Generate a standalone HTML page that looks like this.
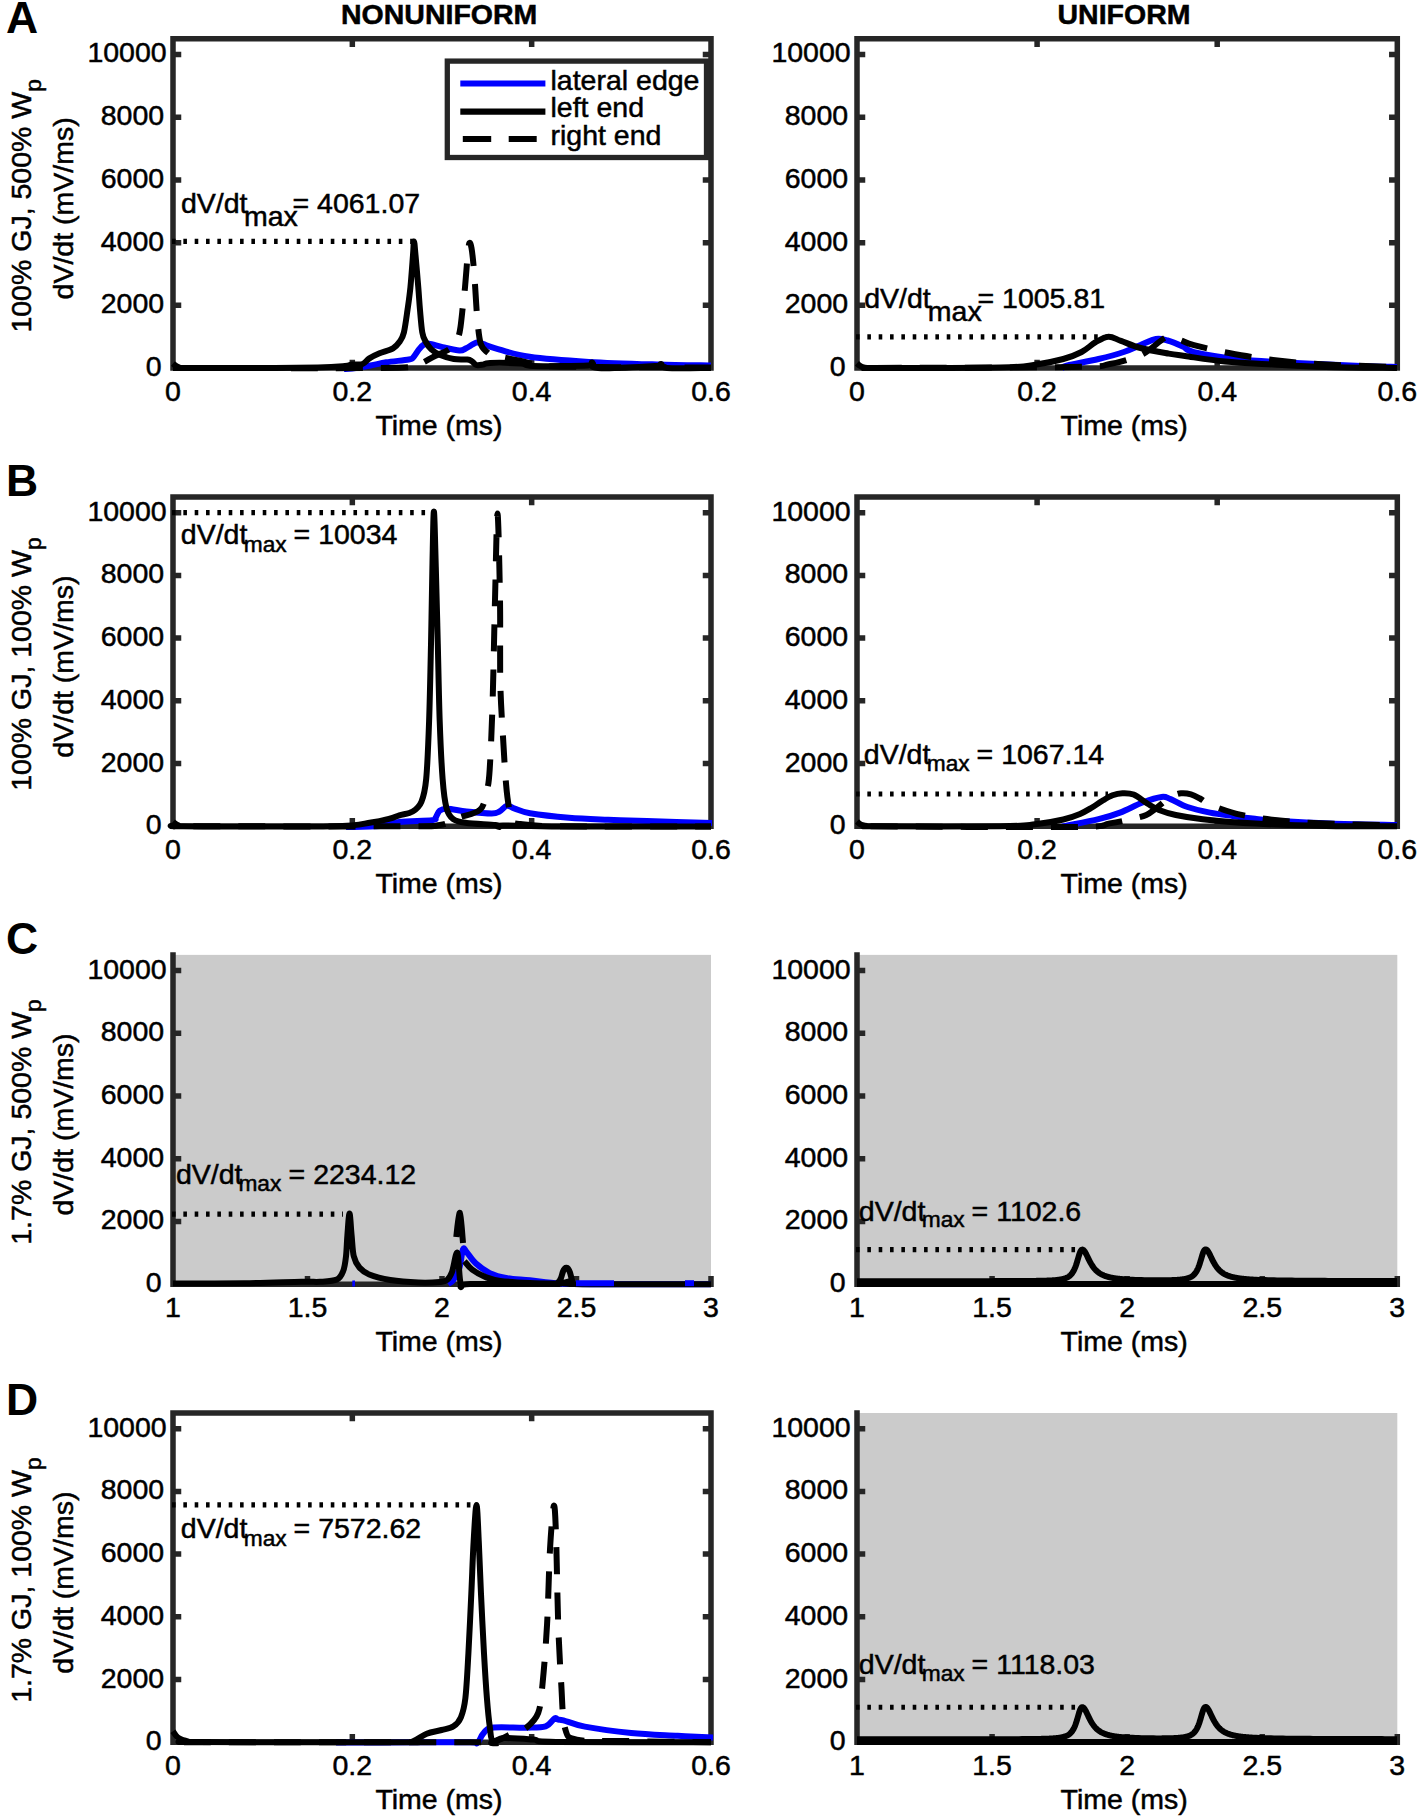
<!DOCTYPE html><html><head><meta charset="utf-8"><style>html,body{margin:0;padding:0;background:#fff;}svg{display:block}</style></head><body>
<svg width="1422" height="1817" viewBox="0 0 1422 1817" style="font-family:&quot;Liberation Sans&quot;, sans-serif">
<rect width="1422" height="1817" fill="#fff"/>
<path d="M173.0 368.1V38.7885 M173.0 368.1H711.0 M173.0 38.7885H711.0V368.1 M173.0 368.10h5.5 M711.0 368.10h-5.5 M173.0 305.37h5.5 M711.0 305.37h-5.5 M173.0 242.65h5.5 M711.0 242.65h-5.5 M173.0 179.92h5.5 M711.0 179.92h-5.5 M173.0 117.20h5.5 M711.0 117.20h-5.5 M173.0 54.47h5.5 M711.0 54.47h-5.5 M173.00 368.1v-5.5 M173.00 38.79v5.5 M352.33 368.1v-5.5 M352.33 38.79v5.5 M531.67 368.1v-5.5 M531.67 38.79v5.5 M711.00 368.1v-5.5 M711.00 38.79v5.5" fill="none" stroke="#262626" stroke-width="5.5" stroke-linecap="square"/>
<text x="161.50" y="376.10" font-size="28.5" text-anchor="end" fill="#000" stroke="#000" stroke-width="0.5">0</text>
<text x="164.10" y="313.37" font-size="28.5" text-anchor="end" fill="#000" stroke="#000" stroke-width="0.5">2000</text>
<text x="164.10" y="250.65" font-size="28.5" text-anchor="end" fill="#000" stroke="#000" stroke-width="0.5">4000</text>
<text x="164.10" y="187.92" font-size="28.5" text-anchor="end" fill="#000" stroke="#000" stroke-width="0.5">6000</text>
<text x="164.10" y="125.20" font-size="28.5" text-anchor="end" fill="#000" stroke="#000" stroke-width="0.5">8000</text>
<text x="166.70" y="62.47" font-size="28.5" text-anchor="end" fill="#000" stroke="#000" stroke-width="0.5">10000</text>
<text x="173.00" y="400.60" font-size="28.5" text-anchor="middle" fill="#000" stroke="#000" stroke-width="0.5">0</text>
<text x="352.33" y="400.60" font-size="28.5" text-anchor="middle" fill="#000" stroke="#000" stroke-width="0.5">0.2</text>
<text x="531.67" y="400.60" font-size="28.5" text-anchor="middle" fill="#000" stroke="#000" stroke-width="0.5">0.4</text>
<text x="711.00" y="400.60" font-size="28.5" text-anchor="middle" fill="#000" stroke="#000" stroke-width="0.5">0.6</text>
<text x="439.00" y="434.90" font-size="28.5" text-anchor="middle" fill="#000" stroke="#000" stroke-width="0.5">Time (ms)</text>
<path d="M344.00 369.00C345.33 368.92 347.58 369.08 352.00 368.50C356.42 367.92 364.78 366.53 370.50 365.50C376.22 364.47 379.92 363.30 386.30 362.30C392.68 361.30 404.30 360.33 408.80 359.50C413.30 358.67 411.62 358.98 413.30 357.30C414.98 355.62 417.22 351.47 418.90 349.40C420.58 347.33 421.72 345.85 423.40 344.90C425.08 343.95 425.82 343.33 429.00 343.70C432.18 344.07 437.43 345.97 442.50 347.10C447.57 348.23 455.47 350.30 459.40 350.50C463.33 350.70 463.28 349.62 466.10 348.30C468.92 346.98 473.48 343.32 476.30 342.60C479.12 341.88 479.80 343.05 483.00 344.00C486.20 344.95 487.73 346.17 495.50 348.30C503.27 350.43 514.02 354.53 529.60 356.80C545.18 359.07 567.77 360.62 589.00 361.90C610.23 363.18 636.67 363.90 657.00 364.50C677.33 365.10 702.00 365.33 711.00 365.50" fill="none" stroke="#0000ff" stroke-width="6.0" stroke-linejoin="round"/>
<path d="M173.00 363.50C173.42 363.85 174.58 365.02 175.50 365.60C176.42 366.18 177.25 366.62 178.50 367.00C179.75 367.38 171.08 367.73 183.00 367.90C194.92 368.07 227.50 368.07 250.00 368.00C272.50 367.93 302.17 367.83 318.00 367.50C333.83 367.17 339.33 366.50 345.00 366.00C350.67 365.50 349.07 364.83 352.00 364.50C354.93 364.17 359.70 365.02 362.60 364.00C365.50 362.98 366.58 360.18 369.40 358.40C372.22 356.62 375.57 354.98 379.50 353.30C383.43 351.62 389.62 350.27 393.00 348.30C396.38 346.33 397.98 344.13 399.80 341.50C401.62 338.87 402.62 337.75 403.90 332.50C405.18 327.25 406.42 317.50 407.50 310.00C408.58 302.50 409.48 296.67 410.40 287.50C411.32 278.33 412.40 262.67 413.00 255.00C413.60 247.33 413.58 241.50 414.00 241.50C414.42 241.50 414.78 247.33 415.50 255.00C416.22 262.67 417.55 278.33 418.30 287.50C419.05 296.67 419.33 302.50 420.00 310.00C420.67 317.50 421.37 327.25 422.30 332.50C423.23 337.75 424.10 338.68 425.60 341.50C427.10 344.32 428.85 347.15 431.30 349.40C433.75 351.65 436.55 353.40 440.30 355.00C444.05 356.60 449.30 358.25 453.80 359.00C458.30 359.75 464.30 359.13 467.30 359.50C470.30 359.87 470.30 360.28 471.80 361.20C473.30 362.12 474.43 364.43 476.30 365.00C478.17 365.57 480.72 364.93 483.00 364.60C485.28 364.27 483.67 363.17 490.00 363.00C496.33 362.83 513.83 363.10 521.00 363.60C528.17 364.10 521.83 365.68 533.00 366.00C544.17 366.32 578.17 366.08 588.00 365.50C597.83 364.92 590.33 362.08 592.00 362.50C593.67 362.92 587.50 367.42 598.00 368.00C608.50 368.58 644.50 366.67 655.00 366.00C665.50 365.33 659.00 363.67 661.00 364.00C663.00 364.33 658.67 367.33 667.00 368.00C675.33 368.67 703.67 368.00 711.00 368.00" fill="none" stroke="#000" stroke-width="6.0" stroke-linejoin="round"/>
<path d="M173.00 368.00C207.50 368.00 339.83 368.33 380.00 368.00C420.17 367.67 406.95 366.85 414.00 366.00C421.05 365.15 418.80 364.57 422.30 362.90C425.80 361.23 430.88 358.07 435.00 356.00C439.12 353.93 443.83 352.33 447.00 350.50C450.17 348.67 452.12 347.25 454.00 345.00C455.88 342.75 457.22 340.00 458.30 337.00C459.38 334.00 459.72 332.33 460.50 327.00C461.28 321.67 462.25 311.58 463.00 305.00C463.75 298.42 464.20 296.05 465.00 287.50C465.80 278.95 467.05 261.12 467.80 253.70C468.55 246.28 468.88 243.95 469.50 243.00C470.12 242.05 470.83 244.33 471.50 248.00C472.17 251.67 472.88 258.42 473.50 265.00C474.12 271.58 474.55 278.33 475.20 287.50C475.85 296.67 476.48 310.63 477.40 320.00C478.32 329.37 479.10 338.37 480.70 343.70C482.30 349.03 484.67 350.03 487.00 352.00C489.33 353.97 489.03 354.00 494.70 355.50C500.37 357.00 512.62 359.25 521.00 361.00C529.38 362.75 531.83 365.00 545.00 366.00C558.17 367.00 572.33 366.75 600.00 367.00C627.67 367.25 692.50 367.42 711.00 367.50" fill="none" stroke="#000" stroke-width="6.0" stroke-linejoin="round" stroke-dasharray="27 18" stroke-dashoffset="17.20"/>
<path d="M172.00 241.30H414.00" stroke="#000" stroke-width="5.2" stroke-dasharray="3.6 7.74"/>
<text x="180.90" y="212.90" font-size="28.5" fill="#000" stroke="#000" stroke-width="0.5">dV/dt</text>
<text x="243.90" y="225.70" font-size="28.5" fill="#000" stroke="#000" stroke-width="0.5">max</text>
<text x="292.50" y="212.90" font-size="28.5" fill="#000" stroke="#000" stroke-width="0.5">= 4061.07</text>
<path d="M857.0 368.1V38.7885 M857.0 368.1H1397.3 M857.0 38.7885H1397.3V368.1 M857.0 368.10h5.5 M1397.3 368.10h-5.5 M857.0 305.37h5.5 M1397.3 305.37h-5.5 M857.0 242.65h5.5 M1397.3 242.65h-5.5 M857.0 179.92h5.5 M1397.3 179.92h-5.5 M857.0 117.20h5.5 M1397.3 117.20h-5.5 M857.0 54.47h5.5 M1397.3 54.47h-5.5 M857.00 368.1v-5.5 M857.00 38.79v5.5 M1037.10 368.1v-5.5 M1037.10 38.79v5.5 M1217.20 368.1v-5.5 M1217.20 38.79v5.5 M1397.30 368.1v-5.5 M1397.30 38.79v5.5" fill="none" stroke="#262626" stroke-width="5.5" stroke-linecap="square"/>
<text x="845.50" y="376.10" font-size="28.5" text-anchor="end" fill="#000" stroke="#000" stroke-width="0.5">0</text>
<text x="848.10" y="313.37" font-size="28.5" text-anchor="end" fill="#000" stroke="#000" stroke-width="0.5">2000</text>
<text x="848.10" y="250.65" font-size="28.5" text-anchor="end" fill="#000" stroke="#000" stroke-width="0.5">4000</text>
<text x="848.10" y="187.92" font-size="28.5" text-anchor="end" fill="#000" stroke="#000" stroke-width="0.5">6000</text>
<text x="848.10" y="125.20" font-size="28.5" text-anchor="end" fill="#000" stroke="#000" stroke-width="0.5">8000</text>
<text x="850.70" y="62.47" font-size="28.5" text-anchor="end" fill="#000" stroke="#000" stroke-width="0.5">10000</text>
<text x="857.00" y="400.60" font-size="28.5" text-anchor="middle" fill="#000" stroke="#000" stroke-width="0.5">0</text>
<text x="1037.10" y="400.60" font-size="28.5" text-anchor="middle" fill="#000" stroke="#000" stroke-width="0.5">0.2</text>
<text x="1217.20" y="400.60" font-size="28.5" text-anchor="middle" fill="#000" stroke="#000" stroke-width="0.5">0.4</text>
<text x="1397.30" y="400.60" font-size="28.5" text-anchor="middle" fill="#000" stroke="#000" stroke-width="0.5">0.6</text>
<text x="1124.15" y="434.90" font-size="28.5" text-anchor="middle" fill="#000" stroke="#000" stroke-width="0.5">Time (ms)</text>
<path d="M1062.00 368.00C1062.92 367.58 1061.42 367.00 1067.50 365.50C1073.58 364.00 1089.12 361.25 1098.50 359.00C1107.88 356.75 1116.78 354.33 1123.80 352.00C1130.82 349.67 1135.23 347.17 1140.60 345.00C1145.97 342.83 1151.50 339.75 1156.00 339.00C1160.50 338.25 1163.13 339.27 1167.60 340.50C1172.07 341.73 1178.40 344.45 1182.80 346.40C1187.20 348.35 1184.82 350.07 1194.00 352.20C1203.18 354.33 1221.80 357.45 1237.90 359.20C1254.00 360.95 1270.08 361.57 1290.60 362.70C1311.12 363.83 1343.27 365.28 1361.00 366.00C1378.73 366.72 1391.00 366.83 1397.00 367.00" fill="none" stroke="#0000ff" stroke-width="6.0" stroke-linejoin="round"/>
<path d="M857.00 363.30C857.42 363.67 858.58 364.88 859.50 365.50C860.42 366.12 861.25 366.60 862.50 367.00C863.75 367.40 864.92 367.72 867.00 367.90C869.08 368.08 852.83 368.17 875.00 368.10C897.17 368.03 973.33 368.07 1000.00 367.50C1026.67 366.93 1024.45 366.12 1035.00 364.70C1045.55 363.28 1055.53 361.12 1063.30 359.00C1071.07 356.88 1076.22 354.80 1081.60 352.00C1086.98 349.20 1091.12 344.75 1095.60 342.20C1100.08 339.65 1104.27 336.92 1108.50 336.70C1112.73 336.48 1115.65 339.02 1121.00 340.90C1126.35 342.78 1132.63 345.88 1140.60 348.00C1148.57 350.12 1161.40 352.27 1168.80 353.60C1176.20 354.93 1175.63 354.68 1185.00 356.00C1194.37 357.32 1210.33 360.08 1225.00 361.50C1239.67 362.92 1256.20 363.58 1273.00 364.50C1289.80 365.42 1305.13 366.42 1325.80 367.00C1346.47 367.58 1385.13 367.83 1397.00 368.00" fill="none" stroke="#000" stroke-width="6.0" stroke-linejoin="round"/>
<path d="M857.00 368.00C893.00 367.83 1030.88 367.67 1073.00 367.00C1115.12 366.33 1099.60 365.55 1109.70 364.00C1119.80 362.45 1127.50 359.70 1133.60 357.70C1139.70 355.70 1141.13 355.28 1146.30 352.00C1151.47 348.72 1160.32 340.53 1164.60 338.00C1168.88 335.47 1169.20 336.38 1172.00 336.80C1174.80 337.22 1177.73 339.10 1181.40 340.50C1185.07 341.90 1186.07 343.12 1194.00 345.20C1201.93 347.28 1215.83 350.53 1229.00 353.00C1242.17 355.47 1256.87 358.08 1273.00 360.00C1289.13 361.92 1305.13 363.33 1325.80 364.50C1346.47 365.67 1385.13 366.58 1397.00 367.00" fill="none" stroke="#000" stroke-width="6.0" stroke-linejoin="round" stroke-dasharray="27 18" stroke-dashoffset="27.18"/>
<path d="M856.00 336.90H1107.00" stroke="#000" stroke-width="5.2" stroke-dasharray="3.6 7.74"/>
<text x="864.20" y="307.60" font-size="28.5" fill="#000" stroke="#000" stroke-width="0.5">dV/dt</text>
<text x="927.80" y="321.00" font-size="28.5" fill="#000" stroke="#000" stroke-width="0.5">max</text>
<text x="977.50" y="307.60" font-size="28.5" fill="#000" stroke="#000" stroke-width="0.5">= 1005.81</text>
<path d="M173.0 826.3V496.98849999999993 M173.0 826.3H711.0 M173.0 496.98849999999993H711.0V826.3 M173.0 826.30h5.5 M711.0 826.30h-5.5 M173.0 763.57h5.5 M711.0 763.57h-5.5 M173.0 700.85h5.5 M711.0 700.85h-5.5 M173.0 638.12h5.5 M711.0 638.12h-5.5 M173.0 575.40h5.5 M711.0 575.40h-5.5 M173.0 512.67h5.5 M711.0 512.67h-5.5 M173.00 826.3v-5.5 M173.00 496.99v5.5 M352.33 826.3v-5.5 M352.33 496.99v5.5 M531.67 826.3v-5.5 M531.67 496.99v5.5 M711.00 826.3v-5.5 M711.00 496.99v5.5" fill="none" stroke="#262626" stroke-width="5.5" stroke-linecap="square"/>
<text x="161.50" y="834.30" font-size="28.5" text-anchor="end" fill="#000" stroke="#000" stroke-width="0.5">0</text>
<text x="164.10" y="771.57" font-size="28.5" text-anchor="end" fill="#000" stroke="#000" stroke-width="0.5">2000</text>
<text x="164.10" y="708.85" font-size="28.5" text-anchor="end" fill="#000" stroke="#000" stroke-width="0.5">4000</text>
<text x="164.10" y="646.12" font-size="28.5" text-anchor="end" fill="#000" stroke="#000" stroke-width="0.5">6000</text>
<text x="164.10" y="583.40" font-size="28.5" text-anchor="end" fill="#000" stroke="#000" stroke-width="0.5">8000</text>
<text x="166.70" y="520.67" font-size="28.5" text-anchor="end" fill="#000" stroke="#000" stroke-width="0.5">10000</text>
<text x="173.00" y="858.80" font-size="28.5" text-anchor="middle" fill="#000" stroke="#000" stroke-width="0.5">0</text>
<text x="352.33" y="858.80" font-size="28.5" text-anchor="middle" fill="#000" stroke="#000" stroke-width="0.5">0.2</text>
<text x="531.67" y="858.80" font-size="28.5" text-anchor="middle" fill="#000" stroke="#000" stroke-width="0.5">0.4</text>
<text x="711.00" y="858.80" font-size="28.5" text-anchor="middle" fill="#000" stroke="#000" stroke-width="0.5">0.6</text>
<text x="439.00" y="893.10" font-size="28.5" text-anchor="middle" fill="#000" stroke="#000" stroke-width="0.5">Time (ms)</text>
<path d="M346.00 827.00C351.67 826.83 371.12 826.83 380.00 826.00C388.88 825.17 390.63 822.97 399.30 822.00C407.97 821.03 425.92 820.98 432.00 820.20C438.08 819.42 434.52 818.90 435.80 817.30C437.08 815.70 437.77 812.03 439.70 810.60C441.63 809.17 442.92 808.55 447.40 808.70C451.88 808.85 459.22 810.70 466.60 811.50C473.98 812.30 486.23 813.50 491.70 813.50C497.17 813.50 496.85 812.78 499.40 811.50C501.95 810.22 504.43 806.27 507.00 805.80C509.57 805.33 510.97 807.47 514.80 808.70C518.63 809.93 520.97 811.70 530.00 813.20C539.03 814.70 556.00 816.62 569.00 817.70C582.00 818.78 595.00 819.15 608.00 819.70C621.00 820.25 629.67 820.45 647.00 821.00C664.33 821.55 701.17 822.67 712.00 823.00" fill="none" stroke="#0000ff" stroke-width="6.0" stroke-linejoin="round"/>
<path d="M173.00 821.80C173.42 822.15 174.58 823.32 175.50 823.90C176.42 824.48 177.25 824.92 178.50 825.30C179.75 825.68 157.42 826.03 183.00 826.20C208.58 826.37 300.67 826.92 332.00 826.30C363.33 825.68 361.38 823.77 371.00 822.50C380.62 821.23 384.98 819.90 389.70 818.70C394.42 817.50 395.47 816.50 399.30 815.30C403.13 814.10 409.02 813.73 412.70 811.50C416.38 809.27 419.15 807.33 421.40 801.90C423.65 796.47 424.92 792.38 426.20 778.90C427.48 765.42 428.30 743.48 429.10 721.00C429.90 698.52 430.45 669.67 431.00 644.00C431.55 618.33 431.92 589.08 432.40 567.00C432.88 544.92 433.33 511.50 433.90 511.50C434.47 511.50 435.15 544.92 435.80 567.00C436.45 589.08 437.15 618.33 437.80 644.00C438.45 669.67 438.90 698.53 439.70 721.00C440.50 743.47 441.48 764.35 442.60 778.80C443.72 793.25 444.63 800.97 446.40 807.70C448.17 814.43 449.83 816.65 453.20 819.20C456.57 821.75 459.55 822.03 466.60 823.00C473.65 823.97 490.03 824.33 495.50 825.00C500.97 825.67 498.15 826.92 499.40 827.00C500.65 827.08 491.83 825.58 503.00 825.50C514.17 825.42 543.40 826.33 566.40 826.50C589.40 826.67 616.90 826.50 641.00 826.50C665.10 826.50 699.33 826.50 711.00 826.50" fill="none" stroke="#000" stroke-width="6.0" stroke-linejoin="round"/>
<path d="M173.00 826.30C210.83 826.30 355.50 826.52 400.00 826.30C444.50 826.08 430.17 826.47 440.00 825.00C449.83 823.53 452.32 820.05 459.00 817.50C465.68 814.95 475.45 814.22 480.10 809.70C484.75 805.18 485.30 797.15 486.90 790.40C488.50 783.65 488.75 783.97 489.70 769.20C490.65 754.43 491.72 730.00 492.60 701.80C493.48 673.60 494.18 631.38 495.00 600.00C495.82 568.62 496.67 513.50 497.50 513.50C498.33 513.50 499.53 571.83 500.00 600.00C500.47 628.17 499.77 659.12 500.30 682.50C500.83 705.88 502.23 723.28 503.20 740.30C504.17 757.32 505.13 773.37 506.10 784.60C507.07 795.83 507.88 801.60 509.00 807.70C510.12 813.80 510.88 818.48 512.80 821.20C514.72 823.92 512.63 823.15 520.50 824.00C528.37 824.85 528.25 825.88 560.00 826.30C591.75 826.72 685.83 826.47 711.00 826.50" fill="none" stroke="#000" stroke-width="6.0" stroke-linejoin="round" stroke-dasharray="27 18" stroke-dashoffset="24.60"/>
<path d="M172.00 512.60H428.00" stroke="#000" stroke-width="5.2" stroke-dasharray="3.6 7.74"/>
<text x="180.80" y="544.10" font-size="28.5" fill="#000" stroke="#000" stroke-width="0.5">dV/dt</text>
<text x="243.80" y="552.00" font-size="22.7" fill="#000" stroke="#000" stroke-width="0.5">max</text>
<text x="293.60" y="544.10" font-size="28.5" fill="#000" stroke="#000" stroke-width="0.5">= 10034</text>
<path d="M857.0 826.3V496.98849999999993 M857.0 826.3H1397.3 M857.0 496.98849999999993H1397.3V826.3 M857.0 826.30h5.5 M1397.3 826.30h-5.5 M857.0 763.57h5.5 M1397.3 763.57h-5.5 M857.0 700.85h5.5 M1397.3 700.85h-5.5 M857.0 638.12h5.5 M1397.3 638.12h-5.5 M857.0 575.40h5.5 M1397.3 575.40h-5.5 M857.0 512.67h5.5 M1397.3 512.67h-5.5 M857.00 826.3v-5.5 M857.00 496.99v5.5 M1037.10 826.3v-5.5 M1037.10 496.99v5.5 M1217.20 826.3v-5.5 M1217.20 496.99v5.5 M1397.30 826.3v-5.5 M1397.30 496.99v5.5" fill="none" stroke="#262626" stroke-width="5.5" stroke-linecap="square"/>
<text x="845.50" y="834.30" font-size="28.5" text-anchor="end" fill="#000" stroke="#000" stroke-width="0.5">0</text>
<text x="848.10" y="771.57" font-size="28.5" text-anchor="end" fill="#000" stroke="#000" stroke-width="0.5">2000</text>
<text x="848.10" y="708.85" font-size="28.5" text-anchor="end" fill="#000" stroke="#000" stroke-width="0.5">4000</text>
<text x="848.10" y="646.12" font-size="28.5" text-anchor="end" fill="#000" stroke="#000" stroke-width="0.5">6000</text>
<text x="848.10" y="583.40" font-size="28.5" text-anchor="end" fill="#000" stroke="#000" stroke-width="0.5">8000</text>
<text x="850.70" y="520.67" font-size="28.5" text-anchor="end" fill="#000" stroke="#000" stroke-width="0.5">10000</text>
<text x="857.00" y="858.80" font-size="28.5" text-anchor="middle" fill="#000" stroke="#000" stroke-width="0.5">0</text>
<text x="1037.10" y="858.80" font-size="28.5" text-anchor="middle" fill="#000" stroke="#000" stroke-width="0.5">0.2</text>
<text x="1217.20" y="858.80" font-size="28.5" text-anchor="middle" fill="#000" stroke="#000" stroke-width="0.5">0.4</text>
<text x="1397.30" y="858.80" font-size="28.5" text-anchor="middle" fill="#000" stroke="#000" stroke-width="0.5">0.6</text>
<text x="1124.15" y="893.10" font-size="28.5" text-anchor="middle" fill="#000" stroke="#000" stroke-width="0.5">Time (ms)</text>
<path d="M1062.00 826.50C1062.92 826.33 1061.42 826.72 1067.50 825.50C1073.58 824.28 1089.75 821.35 1098.50 819.20C1107.25 817.05 1112.67 815.38 1120.00 812.60C1127.33 809.82 1135.57 805.12 1142.50 802.50C1149.43 799.88 1156.92 797.47 1161.60 796.90C1166.28 796.33 1166.28 797.42 1170.60 799.10C1174.92 800.78 1180.93 804.75 1187.50 807.00C1194.07 809.25 1202.50 811.10 1210.00 812.60C1217.50 814.10 1225.00 814.97 1232.50 816.00C1240.00 817.03 1247.08 817.97 1255.00 818.80C1262.92 819.63 1267.50 820.22 1280.00 821.00C1292.50 821.78 1310.50 822.83 1330.00 823.50C1349.50 824.17 1385.83 824.75 1397.00 825.00" fill="none" stroke="#0000ff" stroke-width="6.0" stroke-linejoin="round"/>
<path d="M857.00 821.50C857.42 821.87 858.58 823.08 859.50 823.70C860.42 824.32 861.25 824.80 862.50 825.20C863.75 825.60 864.92 825.92 867.00 826.10C869.08 826.28 852.83 826.27 875.00 826.30C897.17 826.33 973.30 826.63 1000.00 826.30C1026.70 825.97 1024.65 825.43 1035.20 824.30C1045.75 823.17 1055.83 821.22 1063.30 819.50C1070.77 817.78 1075.22 816.00 1080.00 814.00C1084.78 812.00 1088.33 809.67 1092.00 807.50C1095.67 805.33 1098.58 803.03 1102.00 801.00C1105.42 798.97 1109.10 796.60 1112.50 795.30C1115.90 794.00 1118.88 793.32 1122.40 793.20C1125.92 793.08 1129.38 792.83 1133.60 794.60C1137.82 796.37 1143.47 801.23 1147.70 803.80C1151.93 806.37 1154.32 808.13 1159.00 810.00C1163.68 811.87 1168.52 813.47 1175.80 815.00C1183.08 816.53 1189.42 817.77 1202.70 819.20C1215.98 820.63 1234.98 822.48 1255.50 823.60C1276.02 824.72 1302.22 825.45 1325.80 825.90C1349.38 826.35 1385.13 826.23 1397.00 826.30" fill="none" stroke="#000" stroke-width="6.0" stroke-linejoin="round"/>
<path d="M857.00 826.30C893.02 826.42 1030.98 827.48 1073.10 827.00C1115.22 826.52 1099.62 824.82 1109.70 823.40C1119.78 821.98 1127.50 819.90 1133.60 818.50C1139.70 817.10 1142.78 816.52 1146.30 815.00C1149.82 813.48 1151.42 811.87 1154.70 809.40C1157.98 806.93 1162.95 802.47 1166.00 800.20C1169.05 797.93 1170.50 796.95 1173.00 795.80C1175.50 794.65 1178.00 793.55 1181.00 793.30C1184.00 793.05 1187.83 793.43 1191.00 794.30C1194.17 795.17 1197.50 797.13 1200.00 798.50C1202.50 799.87 1203.40 801.08 1206.00 802.50C1208.60 803.92 1209.68 804.93 1215.60 807.00C1221.52 809.07 1230.80 812.65 1241.50 814.90C1252.20 817.15 1265.75 819.07 1279.80 820.50C1293.85 821.93 1306.27 822.67 1325.80 823.50C1345.33 824.33 1385.13 825.17 1397.00 825.50" fill="none" stroke="#000" stroke-width="6.0" stroke-linejoin="round" stroke-dasharray="27 18" stroke-dashoffset="31.19"/>
<path d="M856.00 794.00H1108.00" stroke="#000" stroke-width="5.2" stroke-dasharray="3.6 7.74"/>
<text x="863.80" y="763.50" font-size="28.5" fill="#000" stroke="#000" stroke-width="0.5">dV/dt</text>
<text x="926.80" y="771.30" font-size="22.7" fill="#000" stroke="#000" stroke-width="0.5">max</text>
<text x="976.60" y="763.50" font-size="28.5" fill="#000" stroke="#000" stroke-width="0.5">= 1067.14</text>
<rect x="173.0" y="954.89" width="538.00" height="329.31" fill="#cbcbcb"/>
<path d="M173.0 1284.2V954.8885 M173.0 1284.2H711.0 M173.0 1284.20h5.5 M173.0 1221.47h5.5 M173.0 1158.75h5.5 M173.0 1096.02h5.5 M173.0 1033.30h5.5 M173.0 970.57h5.5 M173.00 1284.2v-5.5 M307.50 1284.2v-5.5 M442.00 1284.2v-5.5 M576.50 1284.2v-5.5 M711.00 1284.2v-5.5" fill="none" stroke="#262626" stroke-width="5.5" stroke-linecap="square"/>
<text x="161.50" y="1292.20" font-size="28.5" text-anchor="end" fill="#000" stroke="#000" stroke-width="0.5">0</text>
<text x="164.10" y="1229.47" font-size="28.5" text-anchor="end" fill="#000" stroke="#000" stroke-width="0.5">2000</text>
<text x="164.10" y="1166.75" font-size="28.5" text-anchor="end" fill="#000" stroke="#000" stroke-width="0.5">4000</text>
<text x="164.10" y="1104.02" font-size="28.5" text-anchor="end" fill="#000" stroke="#000" stroke-width="0.5">6000</text>
<text x="164.10" y="1041.30" font-size="28.5" text-anchor="end" fill="#000" stroke="#000" stroke-width="0.5">8000</text>
<text x="166.70" y="978.57" font-size="28.5" text-anchor="end" fill="#000" stroke="#000" stroke-width="0.5">10000</text>
<text x="173.00" y="1316.70" font-size="28.5" text-anchor="middle" fill="#000" stroke="#000" stroke-width="0.5">1</text>
<text x="307.50" y="1316.70" font-size="28.5" text-anchor="middle" fill="#000" stroke="#000" stroke-width="0.5">1.5</text>
<text x="442.00" y="1316.70" font-size="28.5" text-anchor="middle" fill="#000" stroke="#000" stroke-width="0.5">2</text>
<text x="576.50" y="1316.70" font-size="28.5" text-anchor="middle" fill="#000" stroke="#000" stroke-width="0.5">2.5</text>
<text x="711.00" y="1316.70" font-size="28.5" text-anchor="middle" fill="#000" stroke="#000" stroke-width="0.5">3</text>
<text x="439.00" y="1351.00" font-size="28.5" text-anchor="middle" fill="#000" stroke="#000" stroke-width="0.5">Time (ms)</text>
<path d="M448.00 1284.00C448.87 1283.37 451.28 1282.95 453.20 1280.20C455.12 1277.45 457.87 1272.67 459.50 1267.50C461.13 1262.33 461.82 1251.78 463.00 1249.20C464.18 1246.62 464.48 1249.65 466.60 1252.00C468.72 1254.35 471.83 1259.78 475.70 1263.30C479.57 1266.82 484.52 1270.63 489.80 1273.10C495.08 1275.57 500.72 1276.92 507.40 1278.10C514.08 1279.28 521.13 1279.30 529.90 1280.20C538.67 1281.10 548.32 1282.83 560.00 1283.50C571.68 1284.17 574.83 1284.08 600.00 1284.20C625.17 1284.32 692.50 1284.20 711.00 1284.20" fill="none" stroke="#0000ff" stroke-width="6.0" stroke-linejoin="round"/>
<path d="M173.00 1283.50C184.83 1283.47 222.58 1283.58 244.00 1283.30C265.42 1283.02 288.83 1282.05 301.50 1281.80C314.17 1281.55 314.10 1282.18 320.00 1281.80C325.90 1281.42 333.03 1281.30 336.90 1279.50C340.77 1277.70 341.68 1274.87 343.20 1271.00C344.72 1267.13 345.30 1262.27 346.00 1256.30C346.70 1250.33 346.82 1242.33 347.40 1235.20C347.98 1228.07 348.80 1213.50 349.50 1213.50C350.20 1213.50 350.88 1228.07 351.60 1235.20C352.32 1242.33 352.50 1250.92 353.80 1256.30C355.10 1261.68 356.83 1264.47 359.40 1267.50C361.97 1270.53 364.05 1272.42 369.20 1274.50C374.35 1276.58 382.08 1278.67 390.30 1280.00C398.52 1281.33 410.30 1282.17 418.50 1282.50C426.70 1282.83 434.75 1282.42 439.50 1282.00C444.25 1281.58 444.92 1281.67 447.00 1280.00C449.08 1278.33 450.27 1276.55 452.00 1272.00C453.73 1267.45 455.90 1250.53 457.40 1252.70C458.90 1254.87 458.90 1279.78 461.00 1285.00C463.10 1290.22 454.67 1284.20 470.00 1284.00C485.33 1283.80 538.33 1284.05 553.00 1283.80C567.67 1283.55 556.67 1283.47 558.00 1282.50C559.33 1281.53 560.17 1279.83 561.00 1278.00C561.83 1276.17 562.33 1273.12 563.00 1271.50C563.67 1269.88 564.42 1268.92 565.00 1268.30C565.58 1267.68 566.00 1267.77 566.50 1267.80C567.00 1267.83 567.42 1267.72 568.00 1268.50C568.58 1269.28 569.33 1270.58 570.00 1272.50C570.67 1274.42 571.25 1278.08 572.00 1280.00C572.75 1281.92 551.33 1283.30 574.50 1284.00C597.67 1284.70 688.25 1284.17 711.00 1284.20" fill="none" stroke="#000" stroke-width="6.0" stroke-linejoin="round"/>
<path d="M352.30 1283.50 L355.00 1283.50" fill="none" stroke="#0000ff" stroke-width="6.0" stroke-linejoin="round"/>
<path d="M576.00 1283.20 L614.00 1283.20" fill="none" stroke="#0000ff" stroke-width="6.0" stroke-linejoin="round"/>
<path d="M685.00 1283.20 L694.00 1283.20" fill="none" stroke="#0000ff" stroke-width="6.0" stroke-linejoin="round"/>
<path d="M464.50 1261.20C465.78 1262.60 468.57 1266.90 472.20 1269.60C475.83 1272.30 481.62 1275.52 486.30 1277.40C490.98 1279.28 493.03 1279.97 500.30 1280.90C507.57 1281.83 519.95 1282.48 529.90 1283.00C539.85 1283.52 554.98 1283.83 560.00 1284.00" fill="none" stroke="#000" stroke-width="6.0" stroke-linejoin="round"/>
<path d="M456.30 1237.00C456.58 1234.50 457.40 1226.03 458.00 1222.00C458.60 1217.97 459.32 1212.30 459.90 1212.80C460.48 1213.30 460.98 1219.97 461.50 1225.00C462.02 1230.03 462.75 1240.00 463.00 1243.00" fill="none" stroke="#000" stroke-width="6.0" stroke-linejoin="round"/>
<path d="M172.00 1214.10H343.00" stroke="#000" stroke-width="5.2" stroke-dasharray="3.6 7.74"/>
<text x="175.90" y="1183.50" font-size="28.5" fill="#000" stroke="#000" stroke-width="0.5">dV/dt</text>
<text x="238.40" y="1191.30" font-size="22.7" fill="#000" stroke="#000" stroke-width="0.5">max</text>
<text x="288.60" y="1183.50" font-size="28.5" fill="#000" stroke="#000" stroke-width="0.5">= 2234.12</text>
<rect x="857.0" y="954.89" width="540.30" height="329.31" fill="#cbcbcb"/>
<path d="M857.0 1284.2V954.8885 M857.0 1284.2H1397.3 M857.0 1284.20h5.5 M857.0 1221.47h5.5 M857.0 1158.75h5.5 M857.0 1096.02h5.5 M857.0 1033.30h5.5 M857.0 970.57h5.5 M857.00 1284.2v-5.5 M992.08 1284.2v-5.5 M1127.15 1284.2v-5.5 M1262.22 1284.2v-5.5 M1397.30 1284.2v-5.5" fill="none" stroke="#262626" stroke-width="5.5" stroke-linecap="square"/>
<text x="845.50" y="1292.20" font-size="28.5" text-anchor="end" fill="#000" stroke="#000" stroke-width="0.5">0</text>
<text x="848.10" y="1229.47" font-size="28.5" text-anchor="end" fill="#000" stroke="#000" stroke-width="0.5">2000</text>
<text x="848.10" y="1166.75" font-size="28.5" text-anchor="end" fill="#000" stroke="#000" stroke-width="0.5">4000</text>
<text x="848.10" y="1104.02" font-size="28.5" text-anchor="end" fill="#000" stroke="#000" stroke-width="0.5">6000</text>
<text x="848.10" y="1041.30" font-size="28.5" text-anchor="end" fill="#000" stroke="#000" stroke-width="0.5">8000</text>
<text x="850.70" y="978.57" font-size="28.5" text-anchor="end" fill="#000" stroke="#000" stroke-width="0.5">10000</text>
<text x="857.00" y="1316.70" font-size="28.5" text-anchor="middle" fill="#000" stroke="#000" stroke-width="0.5">1</text>
<text x="992.08" y="1316.70" font-size="28.5" text-anchor="middle" fill="#000" stroke="#000" stroke-width="0.5">1.5</text>
<text x="1127.15" y="1316.70" font-size="28.5" text-anchor="middle" fill="#000" stroke="#000" stroke-width="0.5">2</text>
<text x="1262.22" y="1316.70" font-size="28.5" text-anchor="middle" fill="#000" stroke="#000" stroke-width="0.5">2.5</text>
<text x="1397.30" y="1316.70" font-size="28.5" text-anchor="middle" fill="#000" stroke="#000" stroke-width="0.5">3</text>
<text x="1124.15" y="1351.00" font-size="28.5" text-anchor="middle" fill="#000" stroke="#000" stroke-width="0.5">Time (ms)</text>
<path d="M857.00 1281.19 L860.00 1281.19 L863.00 1281.19 L866.00 1281.19 L869.00 1281.19 L872.00 1281.19 L875.00 1281.19 L878.00 1281.19 L881.00 1281.19 L884.00 1281.19 L887.00 1281.19 L890.00 1281.19 L893.00 1281.19 L896.00 1281.18 L899.00 1281.18 L902.00 1281.18 L905.00 1281.18 L908.00 1281.18 L911.00 1281.18 L914.00 1281.18 L917.00 1281.18 L920.00 1281.18 L923.00 1281.18 L926.00 1281.18 L929.00 1281.18 L932.00 1281.18 L935.00 1281.17 L938.00 1281.17 L941.00 1281.17 L944.00 1281.17 L947.00 1281.17 L950.00 1281.17 L953.00 1281.17 L956.00 1281.17 L959.00 1281.16 L962.00 1281.16 L965.00 1281.16 L968.00 1281.16 L971.00 1281.15 L974.00 1281.15 L977.00 1281.15 L980.00 1281.15 L983.00 1281.14 L986.00 1281.14 L989.00 1281.13 L992.00 1281.13 L995.00 1281.12 L998.00 1281.12 L1001.00 1281.11 L1004.00 1281.10 L1007.00 1281.09 L1010.00 1281.08 L1013.00 1281.07 L1016.00 1281.06 L1019.00 1281.04 L1022.00 1281.02 L1025.00 1281.00 L1028.00 1280.98 L1031.00 1280.95 L1034.00 1280.91 L1034.50 1280.90 L1035.00 1280.90 L1035.50 1280.89 L1036.00 1280.88 L1036.50 1280.87 L1037.00 1280.87 L1037.50 1280.86 L1038.00 1280.85 L1038.50 1280.84 L1039.00 1280.83 L1039.50 1280.82 L1040.00 1280.81 L1040.50 1280.80 L1041.00 1280.79 L1041.50 1280.78 L1042.00 1280.77 L1042.50 1280.75 L1043.00 1280.74 L1043.50 1280.73 L1044.00 1280.71 L1044.50 1280.70 L1045.00 1280.68 L1045.50 1280.67 L1046.00 1280.65 L1046.50 1280.63 L1047.00 1280.62 L1047.50 1280.60 L1048.00 1280.58 L1048.50 1280.56 L1049.00 1280.53 L1049.50 1280.51 L1050.00 1280.49 L1050.50 1280.46 L1051.00 1280.43 L1051.50 1280.41 L1052.00 1280.38 L1052.50 1280.35 L1053.00 1280.31 L1053.50 1280.28 L1054.00 1280.24 L1054.50 1280.20 L1055.00 1280.16 L1055.50 1280.12 L1056.00 1280.07 L1056.50 1280.02 L1057.00 1279.97 L1057.50 1279.91 L1058.00 1279.85 L1058.50 1279.79 L1059.00 1279.72 L1059.50 1279.65 L1060.00 1279.57 L1060.50 1279.49 L1061.00 1279.40 L1061.50 1279.30 L1062.00 1279.20 L1062.50 1279.09 L1063.00 1278.97 L1063.50 1278.84 L1064.00 1278.70 L1064.50 1278.55 L1065.00 1278.38 L1065.50 1278.20 L1066.00 1278.01 L1066.50 1277.79 L1067.00 1277.56 L1067.50 1277.30 L1068.00 1277.02 L1068.50 1276.71 L1069.00 1276.37 L1069.50 1276.00 L1070.00 1275.58 L1070.50 1275.12 L1071.00 1274.61 L1071.50 1274.05 L1072.00 1273.42 L1072.50 1272.72 L1073.00 1271.95 L1073.50 1271.09 L1074.00 1270.13 L1074.50 1269.08 L1075.00 1267.91 L1075.50 1266.63 L1076.00 1265.24 L1076.50 1263.73 L1077.00 1262.13 L1077.50 1260.45 L1078.00 1258.73 L1078.50 1257.00 L1079.00 1255.33 L1079.50 1253.78 L1080.00 1252.41 L1080.50 1251.28 L1081.00 1250.44 L1081.50 1249.89 L1082.00 1249.63 L1082.50 1249.59 L1083.00 1249.75 L1083.50 1250.09 L1084.00 1250.59 L1084.50 1251.23 L1085.00 1251.99 L1085.50 1252.85 L1086.00 1253.78 L1086.50 1254.76 L1087.00 1255.77 L1087.50 1256.81 L1088.00 1257.85 L1088.50 1258.87 L1089.00 1259.88 L1089.50 1260.87 L1090.00 1261.82 L1090.50 1262.74 L1091.00 1263.62 L1091.50 1264.46 L1092.00 1265.26 L1092.50 1266.02 L1093.00 1266.75 L1093.50 1267.43 L1094.00 1268.07 L1094.50 1268.68 L1095.00 1269.26 L1095.50 1269.80 L1096.00 1270.31 L1096.50 1270.80 L1097.00 1271.25 L1097.50 1271.68 L1098.00 1272.09 L1098.50 1272.47 L1099.00 1272.83 L1099.50 1273.17 L1100.00 1273.49 L1100.50 1273.79 L1101.00 1274.08 L1101.50 1274.35 L1102.00 1274.61 L1102.50 1274.86 L1103.00 1275.09 L1103.50 1275.31 L1104.00 1275.52 L1104.50 1275.71 L1105.00 1275.90 L1105.50 1276.08 L1106.00 1276.25 L1106.50 1276.41 L1107.00 1276.57 L1107.50 1276.71 L1108.00 1276.86 L1108.50 1276.99 L1109.00 1277.12 L1109.50 1277.24 L1110.00 1277.36 L1110.50 1277.47 L1111.00 1277.57 L1111.50 1277.68 L1112.00 1277.77 L1112.50 1277.87 L1113.00 1277.96 L1113.50 1278.04 L1114.00 1278.13 L1114.50 1278.21 L1115.00 1278.28 L1115.50 1278.36 L1116.00 1278.43 L1116.50 1278.49 L1117.00 1278.56 L1117.50 1278.62 L1118.00 1278.68 L1118.50 1278.74 L1119.00 1278.80 L1119.50 1278.85 L1120.00 1278.90 L1120.50 1278.95 L1121.00 1279.00 L1121.50 1279.05 L1122.00 1279.09 L1122.50 1279.14 L1123.00 1279.18 L1123.50 1279.22 L1124.00 1279.26 L1124.50 1279.30 L1125.00 1279.34 L1125.50 1279.37 L1126.00 1279.41 L1126.50 1279.44 L1127.00 1279.47 L1127.50 1279.50 L1128.00 1279.53 L1128.50 1279.56 L1129.00 1279.59 L1129.50 1279.62 L1130.00 1279.65 L1130.50 1279.67 L1131.00 1279.70 L1131.50 1279.72 L1132.00 1279.74 L1132.50 1279.77 L1135.50 1279.89 L1138.50 1279.99 L1141.50 1280.08 L1144.50 1280.15 L1147.50 1280.20 L1150.50 1280.24 L1153.50 1280.27 L1156.50 1280.29 L1157.00 1280.29 L1157.50 1280.29 L1158.00 1280.29 L1158.50 1280.29 L1159.00 1280.29 L1159.50 1280.29 L1160.00 1280.29 L1160.50 1280.29 L1161.00 1280.29 L1161.50 1280.29 L1162.00 1280.29 L1162.50 1280.28 L1163.00 1280.28 L1163.50 1280.28 L1164.00 1280.27 L1164.50 1280.27 L1165.00 1280.26 L1165.50 1280.26 L1166.00 1280.25 L1166.50 1280.24 L1167.00 1280.23 L1167.50 1280.23 L1168.00 1280.22 L1168.50 1280.21 L1169.00 1280.20 L1169.50 1280.18 L1170.00 1280.17 L1170.50 1280.16 L1171.00 1280.14 L1171.50 1280.13 L1172.00 1280.11 L1172.50 1280.09 L1173.00 1280.08 L1173.50 1280.06 L1174.00 1280.03 L1174.50 1280.01 L1175.00 1279.99 L1175.50 1279.96 L1176.00 1279.93 L1176.50 1279.90 L1177.00 1279.87 L1177.50 1279.84 L1178.00 1279.80 L1178.50 1279.76 L1179.00 1279.72 L1179.50 1279.68 L1180.00 1279.63 L1180.50 1279.58 L1181.00 1279.53 L1181.50 1279.47 L1182.00 1279.41 L1182.50 1279.35 L1183.00 1279.28 L1183.50 1279.20 L1184.00 1279.12 L1184.50 1279.03 L1185.00 1278.93 L1185.50 1278.83 L1186.00 1278.72 L1186.50 1278.60 L1187.00 1278.47 L1187.50 1278.33 L1188.00 1278.17 L1188.50 1278.01 L1189.00 1277.82 L1189.50 1277.62 L1190.00 1277.40 L1190.50 1277.16 L1191.00 1276.90 L1191.50 1276.61 L1192.00 1276.29 L1192.50 1275.94 L1193.00 1275.56 L1193.50 1275.13 L1194.00 1274.65 L1194.50 1274.12 L1195.00 1273.54 L1195.50 1272.88 L1196.00 1272.16 L1196.50 1271.35 L1197.00 1270.46 L1197.50 1269.47 L1198.00 1268.37 L1198.50 1267.16 L1199.00 1265.84 L1199.50 1264.40 L1200.00 1262.86 L1200.50 1261.23 L1201.00 1259.53 L1201.50 1257.80 L1202.00 1256.09 L1202.50 1254.46 L1203.00 1252.97 L1203.50 1251.70 L1204.00 1250.68 L1204.50 1249.96 L1205.00 1249.54 L1205.50 1249.38 L1206.00 1249.41 L1206.50 1249.65 L1207.00 1250.06 L1207.50 1250.62 L1208.00 1251.32 L1208.50 1252.12 L1209.00 1253.01 L1209.50 1253.96 L1210.00 1254.96 L1210.50 1255.99 L1211.00 1257.03 L1211.50 1258.06 L1212.00 1259.09 L1212.50 1260.09 L1213.00 1261.07 L1213.50 1262.01 L1214.00 1262.91 L1214.50 1263.78 L1215.00 1264.61 L1215.50 1265.39 L1216.00 1266.14 L1216.50 1266.85 L1217.00 1267.52 L1217.50 1268.15 L1218.00 1268.75 L1218.50 1269.31 L1219.00 1269.85 L1219.50 1270.35 L1220.00 1270.82 L1220.50 1271.27 L1221.00 1271.69 L1221.50 1272.09 L1222.00 1272.46 L1222.50 1272.81 L1223.00 1273.15 L1223.50 1273.47 L1224.00 1273.77 L1224.50 1274.05 L1225.00 1274.32 L1225.50 1274.57 L1226.00 1274.81 L1226.50 1275.04 L1227.00 1275.26 L1227.50 1275.46 L1228.00 1275.66 L1228.50 1275.84 L1229.00 1276.02 L1229.50 1276.19 L1230.00 1276.35 L1230.50 1276.50 L1231.00 1276.65 L1231.50 1276.79 L1232.00 1276.92 L1232.50 1277.05 L1233.00 1277.17 L1233.50 1277.29 L1234.00 1277.40 L1234.50 1277.51 L1235.00 1277.61 L1235.50 1277.71 L1236.00 1277.80 L1236.50 1277.89 L1237.00 1277.98 L1237.50 1278.06 L1238.00 1278.14 L1238.50 1278.22 L1239.00 1278.29 L1239.50 1278.36 L1240.00 1278.43 L1240.50 1278.50 L1241.00 1278.56 L1241.50 1278.62 L1242.00 1278.68 L1242.50 1278.74 L1243.00 1278.79 L1243.50 1278.85 L1244.00 1278.90 L1244.50 1278.95 L1245.00 1279.00 L1245.50 1279.04 L1246.00 1279.09 L1246.50 1279.13 L1247.00 1279.17 L1247.50 1279.21 L1248.00 1279.25 L1248.50 1279.29 L1249.00 1279.33 L1249.50 1279.37 L1250.00 1279.40 L1250.50 1279.43 L1251.00 1279.47 L1251.50 1279.50 L1252.00 1279.53 L1252.50 1279.56 L1253.00 1279.59 L1253.50 1279.62 L1254.00 1279.65 L1254.50 1279.67 L1255.00 1279.70 L1255.50 1279.73 L1256.00 1279.75 L1259.00 1279.89 L1262.00 1280.00 L1265.00 1280.11 L1268.00 1280.19 L1271.00 1280.27 L1274.00 1280.34 L1277.00 1280.40 L1280.00 1280.46 L1283.00 1280.50 L1286.00 1280.55 L1289.00 1280.59 L1292.00 1280.62 L1295.00 1280.66 L1298.00 1280.69 L1301.00 1280.71 L1304.00 1280.74 L1307.00 1280.76 L1310.00 1280.78 L1313.00 1280.80 L1316.00 1280.82 L1319.00 1280.84 L1322.00 1280.85 L1325.00 1280.87 L1328.00 1280.88 L1331.00 1280.89 L1334.00 1280.90 L1337.00 1280.92 L1340.00 1280.93 L1343.00 1280.94 L1346.00 1280.95 L1349.00 1280.96 L1352.00 1280.96 L1355.00 1280.97 L1358.00 1280.98 L1361.00 1280.99 L1364.00 1280.99 L1367.00 1281.00 L1370.00 1281.01 L1373.00 1281.01 L1376.00 1281.02 L1379.00 1281.02 L1382.00 1281.03 L1385.00 1281.03 L1388.00 1281.04 L1391.00 1281.04 L1394.00 1281.05 L1397.00 1281.05" fill="none" stroke="#000" stroke-width="6.0" stroke-linejoin="round"/>
<path d="M857.00 1283.90 L1397.00 1283.90" fill="none" stroke="#000" stroke-width="6.0" stroke-linejoin="round"/>
<path d="M856.00 1249.62H1078.00" stroke="#000" stroke-width="5.2" stroke-dasharray="3.6 7.74"/>
<text x="858.80" y="1220.50" font-size="28.5" fill="#000" stroke="#000" stroke-width="0.5">dV/dt</text>
<text x="921.80" y="1227.40" font-size="22.7" fill="#000" stroke="#000" stroke-width="0.5">max</text>
<text x="971.60" y="1220.50" font-size="28.5" fill="#000" stroke="#000" stroke-width="0.5">= 1102.6</text>
<path d="M173.0 1742.3V1412.9885 M173.0 1742.3H711.0 M173.0 1412.9885H711.0V1742.3 M173.0 1742.30h5.5 M711.0 1742.30h-5.5 M173.0 1679.57h5.5 M711.0 1679.57h-5.5 M173.0 1616.85h5.5 M711.0 1616.85h-5.5 M173.0 1554.12h5.5 M711.0 1554.12h-5.5 M173.0 1491.40h5.5 M711.0 1491.40h-5.5 M173.0 1428.67h5.5 M711.0 1428.67h-5.5 M173.00 1742.3v-5.5 M173.00 1412.99v5.5 M352.33 1742.3v-5.5 M352.33 1412.99v5.5 M531.67 1742.3v-5.5 M531.67 1412.99v5.5 M711.00 1742.3v-5.5 M711.00 1412.99v5.5" fill="none" stroke="#262626" stroke-width="5.5" stroke-linecap="square"/>
<text x="161.50" y="1750.30" font-size="28.5" text-anchor="end" fill="#000" stroke="#000" stroke-width="0.5">0</text>
<text x="164.10" y="1687.57" font-size="28.5" text-anchor="end" fill="#000" stroke="#000" stroke-width="0.5">2000</text>
<text x="164.10" y="1624.85" font-size="28.5" text-anchor="end" fill="#000" stroke="#000" stroke-width="0.5">4000</text>
<text x="164.10" y="1562.12" font-size="28.5" text-anchor="end" fill="#000" stroke="#000" stroke-width="0.5">6000</text>
<text x="164.10" y="1499.40" font-size="28.5" text-anchor="end" fill="#000" stroke="#000" stroke-width="0.5">8000</text>
<text x="166.70" y="1436.67" font-size="28.5" text-anchor="end" fill="#000" stroke="#000" stroke-width="0.5">10000</text>
<text x="173.00" y="1774.80" font-size="28.5" text-anchor="middle" fill="#000" stroke="#000" stroke-width="0.5">0</text>
<text x="352.33" y="1774.80" font-size="28.5" text-anchor="middle" fill="#000" stroke="#000" stroke-width="0.5">0.2</text>
<text x="531.67" y="1774.80" font-size="28.5" text-anchor="middle" fill="#000" stroke="#000" stroke-width="0.5">0.4</text>
<text x="711.00" y="1774.80" font-size="28.5" text-anchor="middle" fill="#000" stroke="#000" stroke-width="0.5">0.6</text>
<text x="439.00" y="1809.10" font-size="28.5" text-anchor="middle" fill="#000" stroke="#000" stroke-width="0.5">Time (ms)</text>
<path d="M336.00 1742.50C349.15 1742.47 392.57 1742.33 414.90 1742.30C437.23 1742.27 459.60 1742.18 470.00 1742.30C480.40 1742.42 475.10 1744.43 477.30 1743.00C479.50 1741.57 480.73 1736.25 483.20 1733.70C485.67 1731.15 484.92 1728.70 492.10 1727.70C499.28 1726.70 517.38 1727.93 526.30 1727.70C535.22 1727.47 540.88 1727.85 545.60 1726.30C550.32 1724.75 552.52 1719.52 554.60 1718.40C556.68 1717.28 556.63 1719.28 558.10 1719.60C559.57 1719.92 558.95 1719.13 563.40 1720.30C567.85 1721.47 573.50 1724.48 584.80 1726.60C596.10 1728.72 615.73 1731.47 631.20 1733.00C646.67 1734.53 663.97 1735.03 677.60 1735.80C691.23 1736.57 707.10 1737.30 713.00 1737.60" fill="none" stroke="#0000ff" stroke-width="6.0" stroke-linejoin="round"/>
<path d="M173.00 1731.30C173.50 1732.02 175.00 1734.43 176.00 1735.60C177.00 1736.77 177.83 1737.53 179.00 1738.30C180.17 1739.07 181.50 1739.68 183.00 1740.20C184.50 1740.72 185.83 1741.08 188.00 1741.40C190.17 1741.72 160.67 1741.97 196.00 1742.10C231.33 1742.23 363.77 1742.37 400.00 1742.20C436.23 1742.03 408.95 1742.52 413.40 1741.10C417.85 1739.68 422.00 1735.55 426.70 1733.70C431.40 1731.85 437.13 1731.23 441.60 1730.00C446.07 1728.77 450.28 1728.42 453.50 1726.30C456.72 1724.18 458.92 1722.02 460.90 1717.30C462.88 1712.58 464.15 1708.65 465.40 1698.00C466.65 1687.35 467.42 1670.73 468.40 1653.40C469.38 1636.07 470.43 1612.57 471.30 1594.00C472.17 1575.43 472.73 1556.83 473.60 1542.00C474.47 1527.17 475.63 1505.00 476.50 1505.00C477.37 1505.00 478.05 1527.17 478.80 1542.00C479.55 1556.83 480.13 1575.43 481.00 1594.00C481.87 1612.57 483.02 1636.07 484.00 1653.40C484.98 1670.73 485.92 1685.62 486.90 1698.00C487.88 1710.38 488.90 1720.52 489.90 1727.70C490.90 1734.88 490.55 1739.37 492.90 1741.10C495.25 1742.83 497.20 1738.35 504.00 1738.10C510.80 1737.85 525.03 1738.97 533.70 1739.60C542.37 1740.23 526.45 1741.45 556.00 1741.90C585.55 1742.35 685.17 1742.23 711.00 1742.30" fill="none" stroke="#000" stroke-width="6.0" stroke-linejoin="round"/>
<path d="M173.00 1742.30C222.50 1742.30 416.82 1742.25 470.00 1742.30C523.18 1742.35 484.45 1744.42 492.10 1742.60C499.75 1740.78 510.20 1733.88 515.90 1731.40C521.60 1728.92 522.58 1730.78 526.30 1727.70C530.02 1724.62 535.48 1720.32 538.20 1712.90C540.92 1705.48 541.12 1698.07 542.60 1683.20C544.08 1668.33 545.87 1646.00 547.10 1623.70C548.33 1601.40 548.88 1569.02 550.00 1549.40C551.12 1529.78 552.80 1508.47 553.80 1506.00C554.80 1503.53 555.27 1514.98 556.00 1534.60C556.73 1554.22 557.33 1598.93 558.20 1623.70C559.07 1648.47 560.08 1665.87 561.20 1683.20C562.32 1700.53 562.30 1718.30 564.90 1727.70C567.50 1737.10 566.78 1737.38 576.80 1739.60C586.82 1741.82 602.63 1740.55 625.00 1741.00C647.37 1741.45 696.67 1742.08 711.00 1742.30" fill="none" stroke="#000" stroke-width="6.0" stroke-linejoin="round" stroke-dasharray="27 18" stroke-dashoffset="34.01"/>
<path d="M172.00 1504.80H474.00" stroke="#000" stroke-width="5.2" stroke-dasharray="3.6 7.74"/>
<text x="180.80" y="1538.20" font-size="28.5" fill="#000" stroke="#000" stroke-width="0.5">dV/dt</text>
<text x="243.80" y="1546.10" font-size="22.7" fill="#000" stroke="#000" stroke-width="0.5">max</text>
<text x="293.60" y="1538.20" font-size="28.5" fill="#000" stroke="#000" stroke-width="0.5">= 7572.62</text>
<rect x="857.0" y="1412.99" width="540.30" height="329.31" fill="#cbcbcb"/>
<path d="M857.0 1742.3V1412.9885 M857.0 1742.3H1397.3 M857.0 1742.30h5.5 M857.0 1679.57h5.5 M857.0 1616.85h5.5 M857.0 1554.12h5.5 M857.0 1491.40h5.5 M857.0 1428.67h5.5 M857.00 1742.3v-5.5 M992.08 1742.3v-5.5 M1127.15 1742.3v-5.5 M1262.22 1742.3v-5.5 M1397.30 1742.3v-5.5" fill="none" stroke="#262626" stroke-width="5.5" stroke-linecap="square"/>
<text x="845.50" y="1750.30" font-size="28.5" text-anchor="end" fill="#000" stroke="#000" stroke-width="0.5">0</text>
<text x="848.10" y="1687.57" font-size="28.5" text-anchor="end" fill="#000" stroke="#000" stroke-width="0.5">2000</text>
<text x="848.10" y="1624.85" font-size="28.5" text-anchor="end" fill="#000" stroke="#000" stroke-width="0.5">4000</text>
<text x="848.10" y="1562.12" font-size="28.5" text-anchor="end" fill="#000" stroke="#000" stroke-width="0.5">6000</text>
<text x="848.10" y="1499.40" font-size="28.5" text-anchor="end" fill="#000" stroke="#000" stroke-width="0.5">8000</text>
<text x="850.70" y="1436.67" font-size="28.5" text-anchor="end" fill="#000" stroke="#000" stroke-width="0.5">10000</text>
<text x="857.00" y="1774.80" font-size="28.5" text-anchor="middle" fill="#000" stroke="#000" stroke-width="0.5">1</text>
<text x="992.08" y="1774.80" font-size="28.5" text-anchor="middle" fill="#000" stroke="#000" stroke-width="0.5">1.5</text>
<text x="1127.15" y="1774.80" font-size="28.5" text-anchor="middle" fill="#000" stroke="#000" stroke-width="0.5">2</text>
<text x="1262.22" y="1774.80" font-size="28.5" text-anchor="middle" fill="#000" stroke="#000" stroke-width="0.5">2.5</text>
<text x="1397.30" y="1774.80" font-size="28.5" text-anchor="middle" fill="#000" stroke="#000" stroke-width="0.5">3</text>
<text x="1124.15" y="1809.10" font-size="28.5" text-anchor="middle" fill="#000" stroke="#000" stroke-width="0.5">Time (ms)</text>
<path d="M857.00 1739.29 L860.00 1739.29 L863.00 1739.29 L866.00 1739.29 L869.00 1739.29 L872.00 1739.29 L875.00 1739.29 L878.00 1739.29 L881.00 1739.29 L884.00 1739.29 L887.00 1739.29 L890.00 1739.29 L893.00 1739.29 L896.00 1739.28 L899.00 1739.28 L902.00 1739.28 L905.00 1739.28 L908.00 1739.28 L911.00 1739.28 L914.00 1739.28 L917.00 1739.28 L920.00 1739.28 L923.00 1739.28 L926.00 1739.28 L929.00 1739.28 L932.00 1739.28 L935.00 1739.27 L938.00 1739.27 L941.00 1739.27 L944.00 1739.27 L947.00 1739.27 L950.00 1739.27 L953.00 1739.27 L956.00 1739.26 L959.00 1739.26 L962.00 1739.26 L965.00 1739.26 L968.00 1739.26 L971.00 1739.25 L974.00 1739.25 L977.00 1739.25 L980.00 1739.24 L983.00 1739.24 L986.00 1739.24 L989.00 1739.23 L992.00 1739.23 L995.00 1739.22 L998.00 1739.21 L1001.00 1739.21 L1004.00 1739.20 L1007.00 1739.19 L1010.00 1739.18 L1013.00 1739.17 L1016.00 1739.16 L1019.00 1739.14 L1022.00 1739.12 L1025.00 1739.10 L1028.00 1739.07 L1031.00 1739.04 L1034.00 1739.01 L1034.50 1739.00 L1035.00 1738.99 L1035.50 1738.99 L1036.00 1738.98 L1036.50 1738.97 L1037.00 1738.96 L1037.50 1738.95 L1038.00 1738.94 L1038.50 1738.93 L1039.00 1738.93 L1039.50 1738.92 L1040.00 1738.91 L1040.50 1738.89 L1041.00 1738.88 L1041.50 1738.87 L1042.00 1738.86 L1042.50 1738.85 L1043.00 1738.83 L1043.50 1738.82 L1044.00 1738.81 L1044.50 1738.79 L1045.00 1738.78 L1045.50 1738.76 L1046.00 1738.74 L1046.50 1738.73 L1047.00 1738.71 L1047.50 1738.69 L1048.00 1738.67 L1048.50 1738.65 L1049.00 1738.62 L1049.50 1738.60 L1050.00 1738.58 L1050.50 1738.55 L1051.00 1738.52 L1051.50 1738.49 L1052.00 1738.46 L1052.50 1738.43 L1053.00 1738.40 L1053.50 1738.36 L1054.00 1738.33 L1054.50 1738.29 L1055.00 1738.24 L1055.50 1738.20 L1056.00 1738.15 L1056.50 1738.10 L1057.00 1738.05 L1057.50 1737.99 L1058.00 1737.93 L1058.50 1737.87 L1059.00 1737.80 L1059.50 1737.73 L1060.00 1737.65 L1060.50 1737.56 L1061.00 1737.47 L1061.50 1737.37 L1062.00 1737.27 L1062.50 1737.16 L1063.00 1737.04 L1063.50 1736.90 L1064.00 1736.76 L1064.50 1736.61 L1065.00 1736.44 L1065.50 1736.26 L1066.00 1736.06 L1066.50 1735.84 L1067.00 1735.60 L1067.50 1735.34 L1068.00 1735.06 L1068.50 1734.74 L1069.00 1734.40 L1069.50 1734.02 L1070.00 1733.60 L1070.50 1733.13 L1071.00 1732.61 L1071.50 1732.04 L1072.00 1731.40 L1072.50 1730.69 L1073.00 1729.91 L1073.50 1729.03 L1074.00 1728.06 L1074.50 1726.99 L1075.00 1725.81 L1075.50 1724.51 L1076.00 1723.09 L1076.50 1721.57 L1077.00 1719.94 L1077.50 1718.23 L1078.00 1716.48 L1078.50 1714.73 L1079.00 1713.03 L1079.50 1711.46 L1080.00 1710.07 L1080.50 1708.92 L1081.00 1708.07 L1081.50 1707.51 L1082.00 1707.25 L1082.50 1707.21 L1083.00 1707.37 L1083.50 1707.71 L1084.00 1708.22 L1084.50 1708.87 L1085.00 1709.64 L1085.50 1710.51 L1086.00 1711.46 L1086.50 1712.45 L1087.00 1713.48 L1087.50 1714.53 L1088.00 1715.59 L1088.50 1716.63 L1089.00 1717.66 L1089.50 1718.66 L1090.00 1719.63 L1090.50 1720.56 L1091.00 1721.45 L1091.50 1722.31 L1092.00 1723.12 L1092.50 1723.89 L1093.00 1724.62 L1093.50 1725.32 L1094.00 1725.97 L1094.50 1726.59 L1095.00 1727.18 L1095.50 1727.73 L1096.00 1728.25 L1096.50 1728.74 L1097.00 1729.20 L1097.50 1729.63 L1098.00 1730.05 L1098.50 1730.43 L1099.00 1730.80 L1099.50 1731.15 L1100.00 1731.47 L1100.50 1731.78 L1101.00 1732.07 L1101.50 1732.35 L1102.00 1732.61 L1102.50 1732.86 L1103.00 1733.09 L1103.50 1733.32 L1104.00 1733.53 L1104.50 1733.73 L1105.00 1733.92 L1105.50 1734.10 L1106.00 1734.28 L1106.50 1734.44 L1107.00 1734.60 L1107.50 1734.75 L1108.00 1734.89 L1108.50 1735.02 L1109.00 1735.15 L1109.50 1735.28 L1110.00 1735.40 L1110.50 1735.51 L1111.00 1735.62 L1111.50 1735.72 L1112.00 1735.82 L1112.50 1735.92 L1113.00 1736.01 L1113.50 1736.10 L1114.00 1736.18 L1114.50 1736.26 L1115.00 1736.34 L1115.50 1736.41 L1116.00 1736.48 L1116.50 1736.55 L1117.00 1736.62 L1117.50 1736.68 L1118.00 1736.74 L1118.50 1736.80 L1119.00 1736.86 L1119.50 1736.92 L1120.00 1736.97 L1120.50 1737.02 L1121.00 1737.07 L1121.50 1737.12 L1122.00 1737.16 L1122.50 1737.21 L1123.00 1737.25 L1123.50 1737.29 L1124.00 1737.33 L1124.50 1737.37 L1125.00 1737.41 L1125.50 1737.44 L1126.00 1737.48 L1126.50 1737.51 L1127.00 1737.55 L1127.50 1737.58 L1128.00 1737.61 L1128.50 1737.64 L1129.00 1737.67 L1129.50 1737.69 L1130.00 1737.72 L1130.50 1737.75 L1131.00 1737.77 L1131.50 1737.80 L1132.00 1737.82 L1132.50 1737.85 L1135.50 1737.97 L1138.50 1738.07 L1141.50 1738.16 L1144.50 1738.23 L1147.50 1738.28 L1150.50 1738.33 L1153.50 1738.36 L1156.50 1738.38 L1157.00 1738.38 L1157.50 1738.38 L1158.00 1738.38 L1158.50 1738.38 L1159.00 1738.38 L1159.50 1738.38 L1160.00 1738.38 L1160.50 1738.38 L1161.00 1738.38 L1161.50 1738.38 L1162.00 1738.37 L1162.50 1738.37 L1163.00 1738.37 L1163.50 1738.36 L1164.00 1738.36 L1164.50 1738.35 L1165.00 1738.35 L1165.50 1738.34 L1166.00 1738.33 L1166.50 1738.33 L1167.00 1738.32 L1167.50 1738.31 L1168.00 1738.30 L1168.50 1738.29 L1169.00 1738.28 L1169.50 1738.27 L1170.00 1738.26 L1170.50 1738.24 L1171.00 1738.23 L1171.50 1738.21 L1172.00 1738.19 L1172.50 1738.18 L1173.00 1738.16 L1173.50 1738.14 L1174.00 1738.12 L1174.50 1738.09 L1175.00 1738.07 L1175.50 1738.04 L1176.00 1738.01 L1176.50 1737.98 L1177.00 1737.95 L1177.50 1737.92 L1178.00 1737.88 L1178.50 1737.84 L1179.00 1737.80 L1179.50 1737.76 L1180.00 1737.71 L1180.50 1737.66 L1181.00 1737.60 L1181.50 1737.55 L1182.00 1737.48 L1182.50 1737.42 L1183.00 1737.35 L1183.50 1737.27 L1184.00 1737.19 L1184.50 1737.10 L1185.00 1737.00 L1185.50 1736.89 L1186.00 1736.78 L1186.50 1736.66 L1187.00 1736.53 L1187.50 1736.38 L1188.00 1736.23 L1188.50 1736.06 L1189.00 1735.87 L1189.50 1735.67 L1190.00 1735.45 L1190.50 1735.20 L1191.00 1734.94 L1191.50 1734.64 L1192.00 1734.32 L1192.50 1733.96 L1193.00 1733.57 L1193.50 1733.13 L1194.00 1732.65 L1194.50 1732.11 L1195.00 1731.52 L1195.50 1730.86 L1196.00 1730.12 L1196.50 1729.30 L1197.00 1728.39 L1197.50 1727.39 L1198.00 1726.27 L1198.50 1725.05 L1199.00 1723.70 L1199.50 1722.25 L1200.00 1720.68 L1200.50 1719.02 L1201.00 1717.29 L1201.50 1715.54 L1202.00 1713.80 L1202.50 1712.15 L1203.00 1710.64 L1203.50 1709.34 L1204.00 1708.31 L1204.50 1707.58 L1205.00 1707.15 L1205.50 1706.99 L1206.00 1707.03 L1206.50 1707.27 L1207.00 1707.68 L1207.50 1708.25 L1208.00 1708.96 L1208.50 1709.77 L1209.00 1710.68 L1209.50 1711.65 L1210.00 1712.66 L1210.50 1713.70 L1211.00 1714.76 L1211.50 1715.81 L1212.00 1716.85 L1212.50 1717.87 L1213.00 1718.86 L1213.50 1719.81 L1214.00 1720.73 L1214.50 1721.61 L1215.00 1722.45 L1215.50 1723.25 L1216.00 1724.01 L1216.50 1724.73 L1217.00 1725.41 L1217.50 1726.05 L1218.00 1726.66 L1218.50 1727.23 L1219.00 1727.77 L1219.50 1728.28 L1220.00 1728.76 L1220.50 1729.21 L1221.00 1729.64 L1221.50 1730.05 L1222.00 1730.43 L1222.50 1730.79 L1223.00 1731.13 L1223.50 1731.45 L1224.00 1731.75 L1224.50 1732.04 L1225.00 1732.31 L1225.50 1732.57 L1226.00 1732.81 L1226.50 1733.05 L1227.00 1733.27 L1227.50 1733.47 L1228.00 1733.67 L1228.50 1733.86 L1229.00 1734.04 L1229.50 1734.21 L1230.00 1734.38 L1230.50 1734.53 L1231.00 1734.68 L1231.50 1734.82 L1232.00 1734.96 L1232.50 1735.09 L1233.00 1735.21 L1233.50 1735.33 L1234.00 1735.44 L1234.50 1735.55 L1235.00 1735.65 L1235.50 1735.75 L1236.00 1735.85 L1236.50 1735.94 L1237.00 1736.03 L1237.50 1736.11 L1238.00 1736.19 L1238.50 1736.27 L1239.00 1736.35 L1239.50 1736.42 L1240.00 1736.49 L1240.50 1736.56 L1241.00 1736.62 L1241.50 1736.68 L1242.00 1736.74 L1242.50 1736.80 L1243.00 1736.86 L1243.50 1736.91 L1244.00 1736.96 L1244.50 1737.01 L1245.00 1737.06 L1245.50 1737.11 L1246.00 1737.16 L1246.50 1737.20 L1247.00 1737.24 L1247.50 1737.28 L1248.00 1737.32 L1248.50 1737.36 L1249.00 1737.40 L1249.50 1737.44 L1250.00 1737.47 L1250.50 1737.51 L1251.00 1737.54 L1251.50 1737.57 L1252.00 1737.61 L1252.50 1737.64 L1253.00 1737.67 L1253.50 1737.69 L1254.00 1737.72 L1254.50 1737.75 L1255.00 1737.78 L1255.50 1737.80 L1256.00 1737.83 L1259.00 1737.97 L1262.00 1738.09 L1265.00 1738.19 L1268.00 1738.28 L1271.00 1738.36 L1274.00 1738.43 L1277.00 1738.49 L1280.00 1738.54 L1283.00 1738.59 L1286.00 1738.64 L1289.00 1738.68 L1292.00 1738.71 L1295.00 1738.75 L1298.00 1738.78 L1301.00 1738.80 L1304.00 1738.83 L1307.00 1738.85 L1310.00 1738.87 L1313.00 1738.89 L1316.00 1738.91 L1319.00 1738.93 L1322.00 1738.95 L1325.00 1738.96 L1328.00 1738.98 L1331.00 1738.99 L1334.00 1739.00 L1337.00 1739.01 L1340.00 1739.02 L1343.00 1739.03 L1346.00 1739.04 L1349.00 1739.05 L1352.00 1739.06 L1355.00 1739.07 L1358.00 1739.08 L1361.00 1739.08 L1364.00 1739.09 L1367.00 1739.10 L1370.00 1739.10 L1373.00 1739.11 L1376.00 1739.11 L1379.00 1739.12 L1382.00 1739.12 L1385.00 1739.13 L1388.00 1739.13 L1391.00 1739.14 L1394.00 1739.14 L1397.00 1739.15" fill="none" stroke="#000" stroke-width="6.0" stroke-linejoin="round"/>
<path d="M857.00 1742.00 L1397.00 1742.00" fill="none" stroke="#000" stroke-width="6.0" stroke-linejoin="round"/>
<path d="M856.00 1707.24H1078.00" stroke="#000" stroke-width="5.2" stroke-dasharray="3.6 7.74"/>
<text x="858.80" y="1673.50" font-size="28.5" fill="#000" stroke="#000" stroke-width="0.5">dV/dt</text>
<text x="921.80" y="1681.30" font-size="22.7" fill="#000" stroke="#000" stroke-width="0.5">max</text>
<text x="971.60" y="1673.50" font-size="28.5" fill="#000" stroke="#000" stroke-width="0.5">= 1118.03</text>
<text transform="translate(30.6,205.9) rotate(-90)" font-size="28.5" text-anchor="middle" fill="#000" stroke="#000" stroke-width="0.5">100% GJ, 500% W<tspan dy="10.3" font-size="22.7">p</tspan></text>
<text transform="translate(72.8,208.4) rotate(-90)" font-size="28.5" text-anchor="middle" fill="#000" stroke="#000" stroke-width="0.5">dV/dt (mV/ms)</text>
<text transform="translate(30.6,664.1) rotate(-90)" font-size="28.5" text-anchor="middle" fill="#000" stroke="#000" stroke-width="0.5">100% GJ, 100% W<tspan dy="10.3" font-size="22.7">p</tspan></text>
<text transform="translate(72.8,666.6) rotate(-90)" font-size="28.5" text-anchor="middle" fill="#000" stroke="#000" stroke-width="0.5">dV/dt (mV/ms)</text>
<text transform="translate(30.6,1122.0) rotate(-90)" font-size="28.5" text-anchor="middle" fill="#000" stroke="#000" stroke-width="0.5">1.7% GJ, 500% W<tspan dy="10.3" font-size="22.7">p</tspan></text>
<text transform="translate(72.8,1124.5) rotate(-90)" font-size="28.5" text-anchor="middle" fill="#000" stroke="#000" stroke-width="0.5">dV/dt (mV/ms)</text>
<text transform="translate(30.6,1580.1) rotate(-90)" font-size="28.5" text-anchor="middle" fill="#000" stroke="#000" stroke-width="0.5">1.7% GJ, 100% W<tspan dy="10.3" font-size="22.7">p</tspan></text>
<text transform="translate(72.8,1582.6) rotate(-90)" font-size="28.5" text-anchor="middle" fill="#000" stroke="#000" stroke-width="0.5">dV/dt (mV/ms)</text>
<text x="439.20" y="24.30" font-size="28.5" text-anchor="middle" font-weight="bold" fill="#000" stroke="#000" stroke-width="0.5">NONUNIFORM</text>
<text x="1124.00" y="24.30" font-size="28.5" text-anchor="middle" font-weight="bold" fill="#000" stroke="#000" stroke-width="0.5">UNIFORM</text>
<text x="6.0" y="33.1" font-size="44.5" font-weight="bold" fill="#000">A</text>
<text x="6.0" y="495.7" font-size="44.5" font-weight="bold" fill="#000">B</text>
<text x="6.0" y="953.8" font-size="44.5" font-weight="bold" fill="#000">C</text>
<text x="6.0" y="1415.1" font-size="44.5" font-weight="bold" fill="#000">D</text>
<rect x="447.3" y="61.1" width="259.2" height="96.4" fill="#fff" stroke="#262626" stroke-width="5.3"/>
<path d="M460.3 83.5H545.4" stroke="#0000ff" stroke-width="6.1"/>
<path d="M460.3 111.6H545.4" stroke="#000" stroke-width="6.1"/>
<path d="M462.8 139.1H491.2M508.7 139.1H536.7" stroke="#000" stroke-width="6"/>
<text x="550.50" y="90.20" font-size="28.5" fill="#000" stroke="#000" stroke-width="0.5">lateral edge</text>
<text x="550.50" y="117.20" font-size="28.5" fill="#000" stroke="#000" stroke-width="0.5">left end</text>
<text x="550.50" y="144.60" font-size="28.5" fill="#000" stroke="#000" stroke-width="0.5">right end</text>
</svg></body></html>
